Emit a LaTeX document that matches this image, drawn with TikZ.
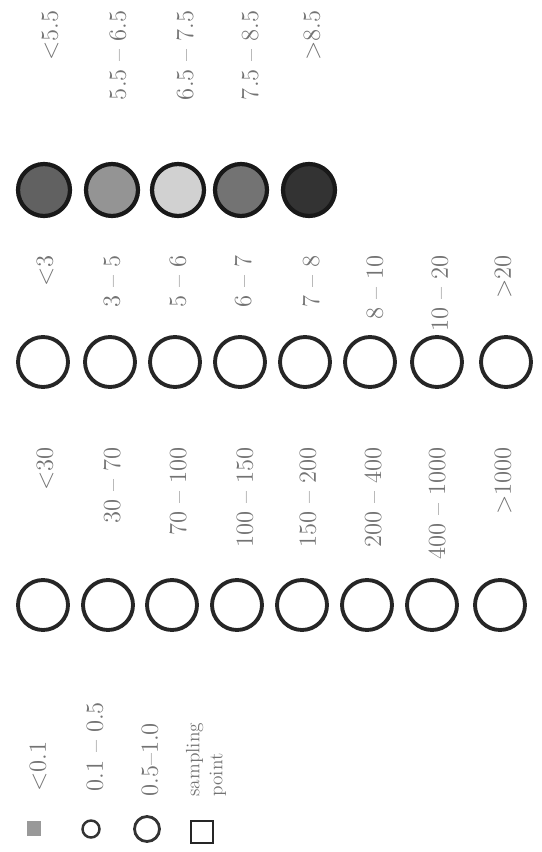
\documentclass[tikz,border=0pt]{standalone}
\begin{document}
\begin{tikzpicture}[x=0.02cm, y=-0.02cm,
  every node/.style={font=\fontsize{14}{16}\selectfont, text=black!55},
  ring/.style={circle, draw=black!85, line width=2.2pt, fill=white, minimum size=1.0cm, inner sep=0pt},
  disc/.style={circle, draw=black!90, line width=2.4pt, minimum size=1.04cm, inner sep=0pt},
  lbl/.style={rotate=90, anchor=east, inner sep=0pt},
  keylbl/.style={rotate=90, anchor=west, inner sep=0pt}]
\useasboundingbox (0,0) rectangle (541,852);

% pH classes
\node[lbl] (ph1) at (50,10) {$<$5.5};
\node[lbl] (ph2) at (118,10) {5.5 -- 6.5};
\node[lbl] (ph3) at (185,10) {6.5 -- 7.5};
\node[lbl] (ph4) at (250,10) {7.5 -- 8.5};
\node[lbl] (ph5) at (312,10) {$>$8.5};
\node[disc, fill=black!62] (d1) at (44,190) {};
\node[disc, fill=black!42] (d2) at (112,190) {};
\node[disc, fill=black!18] (d3) at (178,190) {};
\node[disc, fill=black!55] (d4) at (241,190) {};
\node[disc, fill=black!80] (d5) at (309,190) {};

% second class row
\node[lbl] (b1) at (45,255) {$<$3};
\node[lbl] (b2) at (112,255) {3 -- 5};
\node[lbl] (b3) at (178,255) {5 -- 6};
\node[lbl] (b4) at (243,255) {6 -- 7};
\node[lbl] (b5) at (311,255) {7 -- 8};
\node[lbl] (b6) at (375,255) {8 -- 10};
\node[lbl] (b7) at (440,255) {10 -- 20};
\node[lbl] (b8) at (503,255) {$>$20};
\node[ring] (r1) at (43,362) {};
\node[ring] (r2) at (110,362) {};
\node[ring] (r3) at (175,362) {};
\node[ring] (r4) at (240,362) {};
\node[ring] (r5) at (305,362) {};
\node[ring] (r6) at (370,362) {};
\node[ring] (r7) at (437,362) {};
\node[ring] (r8) at (506,362) {};

% first class row
\node[lbl] (a1) at (45,447) {$<$30};
\node[lbl] (a2) at (112,447) {30 -- 70};
\node[lbl] (a3) at (178,447) {70 -- 100};
\node[lbl] (a4) at (245,447) {100 -- 150};
\node[lbl] (a5) at (308,447) {150 -- 200};
\node[lbl] (a6) at (373,447) {200 -- 400};
\node[lbl] (a7) at (437,447) {400 -- 1000};
\node[lbl] (a8) at (503,447) {$>$1000};
\node[ring] (c1) at (43,605) {};
\node[ring] (c2) at (108,605) {};
\node[ring] (c3) at (172,605) {};
\node[ring] (c4) at (237,605) {};
\node[ring] (c5) at (302,605) {};
\node[ring] (c6) at (367,605) {};
\node[ring] (c7) at (432,605) {};
\node[ring] (c8) at (500,605) {};

% symbol sizes
\node[fill=black!40, minimum size=0.3cm, inner sep=0pt] (k1) at (34,828) {};
\node[circle, draw=black!80, line width=1.4pt, minimum size=0.34cm, inner sep=0pt] (k2) at (91,829) {};
\node[circle, draw=black!80, line width=1.6pt, minimum size=0.5cm, inner sep=0pt] (k3) at (147,829) {};
\node[draw=black!85, line width=1.4pt, minimum size=0.44cm, inner sep=0pt] (k4) at (202,832) {};
\node[keylbl] (kt1) at (38,792) {$<$0.1};
\node[keylbl] (kt2) at (95,792) {0.1 -- 0.5};
\node[keylbl] (kt3) at (150,797) {0.5--1.0};
\node[keylbl, align=left, font=\fontsize{11}{13}\selectfont] (kt4) at (206,797) {sampling\\point};
\end{tikzpicture}
\end{document}
